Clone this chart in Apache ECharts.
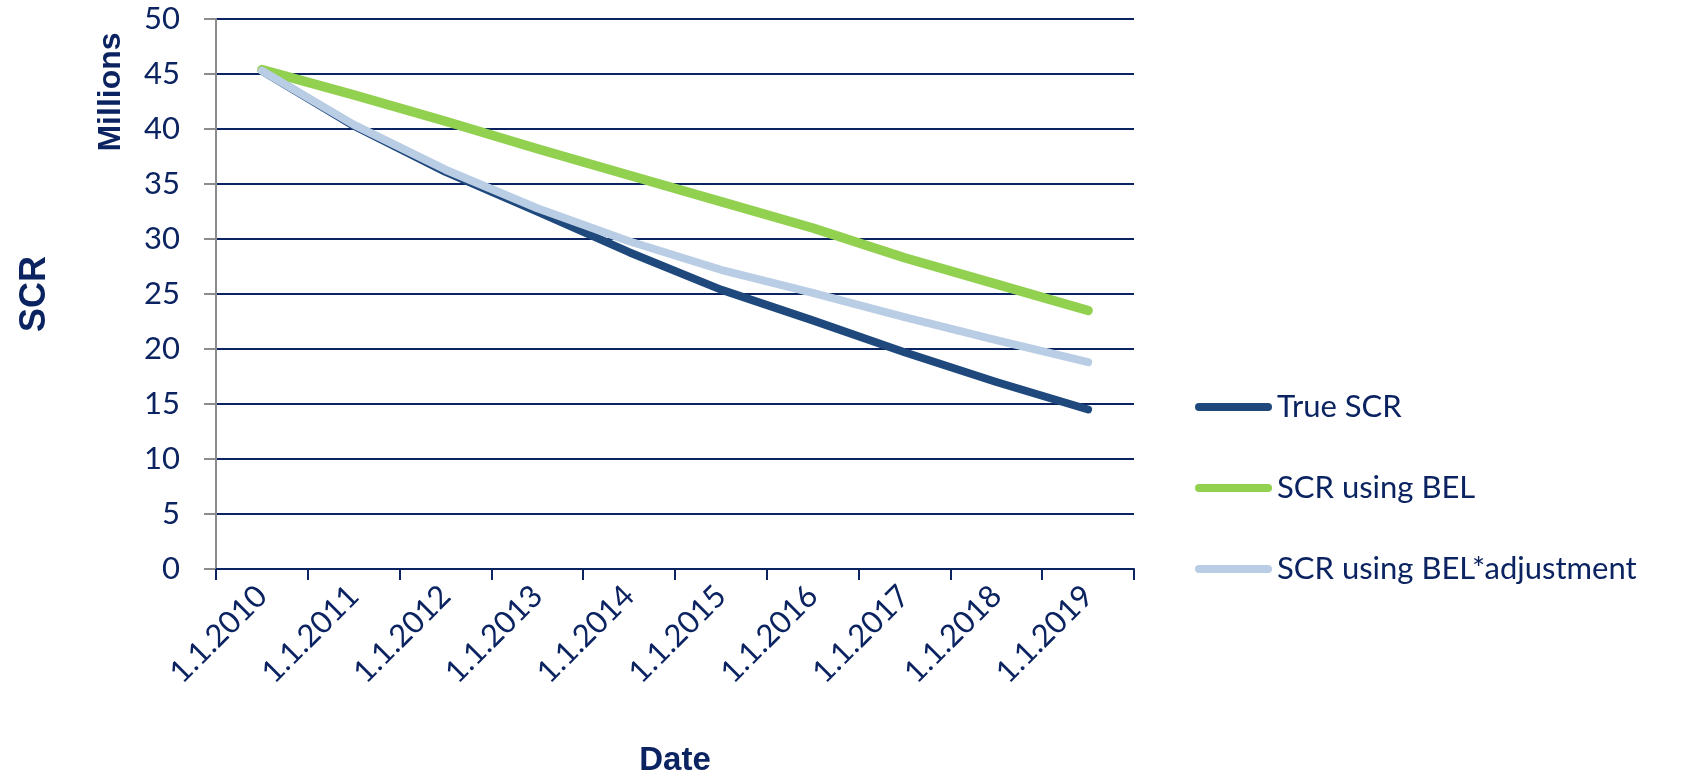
<!DOCTYPE html>
<html>
<head>
<meta charset="utf-8">
<title>SCR projection</title>
<script src="https://cdn.jsdelivr.net/npm/echarts@6/dist/echarts.min.js"></script>
<style>
  html, body { margin: 0; padding: 0; background: #ffffff; }
  #chart { width: 1691px; height: 773px; }
</style>
</head>
<body>
<div id="chart"></div>
<script>
// Projection dates (category axis)
const dates = ['1.1.2010', '1.1.2011', '1.1.2012', '1.1.2013', '1.1.2014',
               '1.1.2015', '1.1.2016', '1.1.2017', '1.1.2018', '1.1.2019'];

// SCR values, in millions
const trueScr        = [45.3, 40.3, 36.1, 32.5, 28.8, 25.4, 22.6, 19.7, 17.0, 14.5];
const scrUsingBel    = [45.4, 43.1, 40.7, 38.2, 35.8, 33.4, 31.0, 28.3, 25.9, 23.5];
const scrUsingBelAdj = [45.3, 40.4, 36.3, 32.8, 29.8, 27.2, 25.1, 22.9, 20.8, 18.8];

// Value axis range
const yMin = 0, yMax = 50, yStep = 5;

const navy = '#0B2461';
const tickFont = 'Lato, "Open Sans", sans-serif';
const titleFont = '"Liberation Sans", Arial, sans-serif';
// Rounded bar used as the legend key
const legendKey = 'path://M4,0 L73,0 A4,4 0 0 1 73,8 L4,8 A4,4 0 0 1 4,0 Z';

const chart = echarts.init(document.getElementById('chart'), null, { renderer: 'canvas' });

chart.setOption({
  backgroundColor: '#ffffff',
  animation: false,
  grid: { left: 216, right: 557, top: 19, bottom: 204, containLabel: false, outerBoundsMode: 'none' },
  legend: {
    orient: 'vertical',
    left: 1190,
    top: 382,
    icon: legendKey,
    itemWidth: 77,
    itemHeight: 8,
    itemGap: 41,
    textStyle: { color: navy, fontFamily: tickFont, fontSize: 31, lineHeight: 40 },
    data: ['True SCR', 'SCR using BEL', 'SCR using BEL*adjustment']
  },
  xAxis: {
    type: 'category',
    data: dates,
    boundaryGap: true,
    name: 'Date',
    nameLocation: 'middle',
    nameGap: 175,
    nameTextStyle: { color: navy, fontFamily: titleFont, fontWeight: 'bold', fontSize: 33 },
    axisLine: { lineStyle: { color: navy, width: 2 } },
    axisTick: { show: true, length: 11, alignWithLabel: false, lineStyle: { color: navy, width: 2 } },
    axisLabel: { rotate: 45, margin: 22, color: navy, fontFamily: tickFont, fontSize: 31, interval: 0 },
    splitLine: { show: false }
  },
  yAxis: {
    type: 'value',
    min: yMin,
    max: yMax,
    interval: yStep,
    name: 'SCR',
    nameLocation: 'middle',
    nameRotate: 90,
    nameGap: 163,
    nameTextStyle: { color: navy, fontFamily: titleFont, fontWeight: 'bold', fontSize: 36 },
    axisLine: { show: true, lineStyle: { color: '#8C8C8C', width: 2 } },
    axisTick: { show: true, length: 12, lineStyle: { color: '#8C8C8C', width: 2 } },
    axisLabel: { margin: 36, color: navy, fontFamily: tickFont, fontSize: 31 },
    splitLine: { show: true, lineStyle: { color: navy, width: 2 } }
  },
  graphic: [{
    type: 'text',
    x: 111,
    y: 92,
    rotation: Math.PI / 2,
    style: {
      text: 'Millions',
      fill: navy,
      font: 'bold 32px ' + titleFont,
      align: 'center',
      verticalAlign: 'middle'
    }
  }],
  series: [
    {
      name: 'True SCR',
      type: 'line',
      data: trueScr,
      symbol: 'none',
      smooth: false,
      color: '#1F497D',
      lineStyle: { color: '#1F497D', width: 8, cap: 'round', join: 'round' }
    },
    {
      name: 'SCR using BEL',
      type: 'line',
      data: scrUsingBel,
      symbol: 'none',
      smooth: false,
      color: '#92D050',
      lineStyle: { color: '#92D050', width: 9.5, cap: 'round', join: 'round' }
    },
    {
      name: 'SCR using BEL*adjustment',
      type: 'line',
      data: scrUsingBelAdj,
      symbol: 'none',
      smooth: false,
      color: '#B9CDE5',
      lineStyle: { color: '#B9CDE5', width: 8, cap: 'round', join: 'round' }
    }
  ]
});
</script>
</body>
</html>
